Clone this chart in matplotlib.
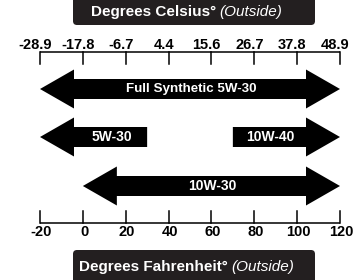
import matplotlib
matplotlib.use("Agg")
import matplotlib.pyplot as plt
from matplotlib.patches import Polygon, FancyBboxPatch

# temperature scale (Fahrenheit positions, Celsius labels on top)
f_ticks = [-20, 0, 20, 40, 60, 80, 100, 120]
c_labels = ["-28.9", "-17.8", "-6.7", "4.4", "15.6", "26.7", "37.8", "48.9"]

# oil grades and their ranges in degrees F
grades = ["Full Synthetic 5W-30", "5W-30", "10W-40", "10W-30"]
range_lo = [-20, -20, 70, 0]
range_hi = [120, 30, 120, 120]
head_left = [True, True, False, True]
head_right = [True, False, True, True]

plt.rcParams['font.family'] = ['Liberation Sans', 'DejaVu Sans']

dark = "#231f20"

fig = plt.figure(figsize=(3.58, 2.8), dpi=100)
ax = fig.add_axes([0, 0, 1, 1])
# x in deg F, y in pixels from the top
px_per_f = 300 / 140
ax.set_xlim(-20 - 40 / px_per_f, 120 + 18 / px_per_f)
ax.set_ylim(280, 0)
ax.axis("off")

row_y = [89, 137, 186]
rows = [0, 1, 1, 2]
label_size = [9.6, 10, 10, 10]
shaft = 10
head = 19.5
head_len = 34 / px_per_f

for i, g in enumerate(grades):
    x0, x1, yc = range_lo[i], range_hi[i], row_y[rows[i]]
    pts = []
    if head_left[i]:
        pts += [(x0, yc), (x0 + head_len, yc - head), (x0 + head_len, yc - shaft)]
        s0 = x0 + head_len
    else:
        pts += [(x0, yc + shaft), (x0, yc - shaft)]
        s0 = x0
    if head_right[i]:
        pts += [(x1 - head_len, yc - shaft), (x1 - head_len, yc - head), (x1, yc),
                (x1 - head_len, yc + head), (x1 - head_len, yc + shaft)]
        s1 = x1 - head_len
    else:
        pts += [(x1, yc - shaft), (x1, yc + shaft)]
        s1 = x1
    if head_left[i]:
        pts += [(x0 + head_len, yc + shaft), (x0 + head_len, yc + head)]
    ax.add_patch(Polygon(pts, closed=True, facecolor="black", edgecolor="none"))
    ax.text((s0 + s1) / 2 + 0.5, yc, g, color="white", fontsize=label_size[i],
            fontweight="bold", ha="center", va="center")

# top (Celsius) scale
ax.plot([f_ticks[0], f_ticks[-1]], [52, 52], color="black", lw=1.1, solid_capstyle="butt")
for x, lab in zip(f_ticks, c_labels):
    ax.plot([x, x], [52, 64], color="black", lw=1.1)
    ax.annotate(lab, (x, 45), xytext=(-3.5, 0), textcoords="offset points",
                fontsize=10.5, fontweight="bold", ha="center", va="center")

# bottom (Fahrenheit) scale
ax.plot([f_ticks[0], f_ticks[-1]], [223, 223], color="black", lw=1.1, solid_capstyle="butt")
for x in f_ticks:
    ax.plot([x, x], [211, 223], color="black", lw=1.1)
    ax.annotate(str(x), (x, 231.5), xytext=(1, 0), textcoords="offset points",
                fontsize=10.5, fontweight="bold", ha="center", va="center")

# header boxes
bx0 = -20 + 33 / px_per_f
bw = 242 / px_per_f
for y0, h in [(-10, 35), (250, 40)]:
    ax.add_patch(FancyBboxPatch((bx0, y0), bw, h,
                                boxstyle="round,pad=0,rounding_size=%f" % (4 / px_per_f),
                                mutation_aspect=px_per_f, facecolor=dark, edgecolor="none"))

def header(xsplit, y, bold, ital):
    ax.text(xsplit, y, bold, color="white", fontsize=11, fontweight="bold",
            ha="right", va="center")
    ax.text(xsplit + 3 / px_per_f, y, ital, color="white", fontsize=11, style="italic",
            ha="left", va="center")

header(-20 + 176 / px_per_f, 12, "Degrees Celsius\u00b0", "(Outside)")
header(-20 + 188 / px_per_f, 267, "Degrees Fahrenheit\u00b0", "(Outside)")

fig.savefig("out.png", dpi=100)
